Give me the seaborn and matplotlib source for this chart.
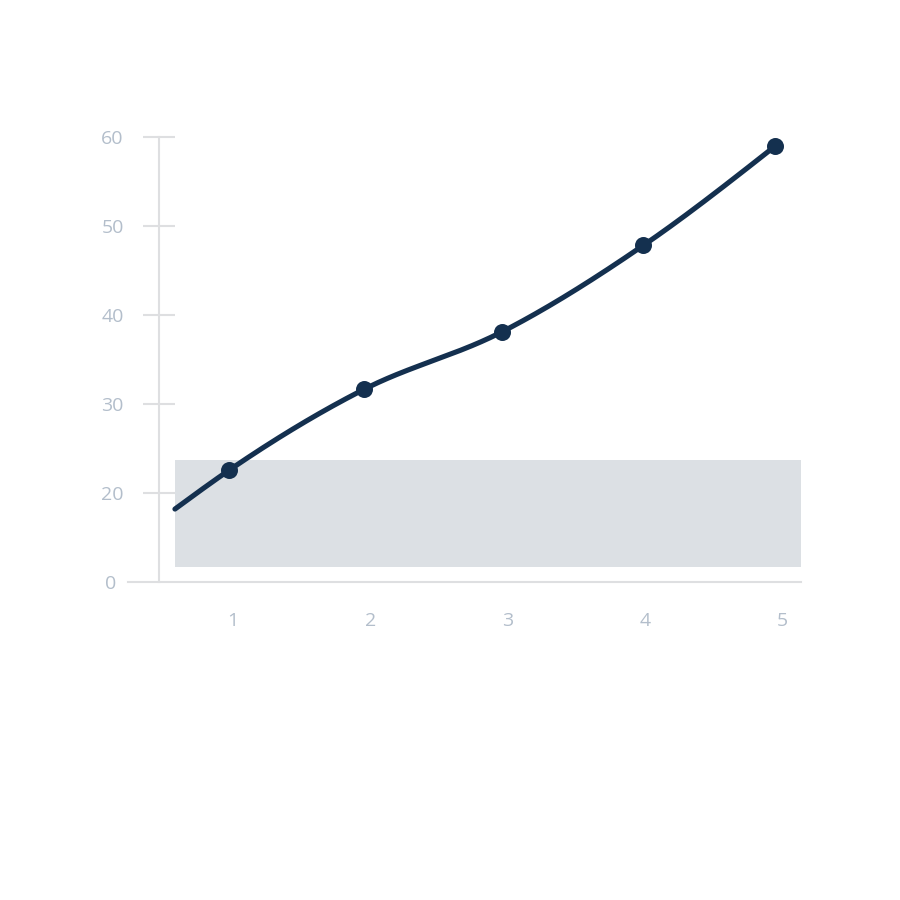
import numpy as np
import pandas as pd
import matplotlib
matplotlib.use("Agg")
import matplotlib.pyplot as plt
import seaborn as sns

# ---- data ----
point_x = [0.975, 1.957, 2.957, 3.987, 4.945]
point_y = [22.55, 31.65, 38.09, 47.83, 58.99]
line_start_x = [0.58]
line_start_y = [18.17]
band_x = [0.58, 5.13]
band_y = [11.65, 23.67]
x_ticks = [1, 2, 3, 4, 5]
x_tick_labels = ["1", "2", "3", "4", "5"]
y_ticks = [20, 30, 40, 50, 60]
y_tick_labels = ["20", "30", "40", "50", "60"]
y_floor = 10
y_floor_label = "0"

NAVY = "#14304f"
AXIS = "#dedfe1"
LABEL = "#b3becb"
BAND = "#dce0e4"


def monotone_curve(xs, ys, n=60):
    xs = np.asarray(xs, float)
    ys = np.asarray(ys, float)
    h = np.diff(xs)
    s = np.diff(ys) / h
    t = np.zeros_like(xs)
    for i in range(1, len(xs) - 1):
        p = (s[i - 1] * h[i] + s[i] * h[i - 1]) / (h[i - 1] + h[i])
        t[i] = (np.sign(s[i - 1]) + np.sign(s[i])) * min(abs(s[i - 1]), abs(s[i]), 0.5 * abs(p))
    t[0] = (3 * s[0] - t[1]) / 2
    t[-1] = (3 * s[-1] - t[-2]) / 2
    cx, cy = [], []
    for i in range(len(xs) - 1):
        u = np.linspace(0, 1, n, endpoint=(i == len(xs) - 2))
        h00 = 2 * u**3 - 3 * u**2 + 1
        h10 = u**3 - 2 * u**2 + u
        h01 = -2 * u**3 + 3 * u**2
        h11 = u**3 - u**2
        cx.append(xs[i] + u * h[i])
        cy.append(h00 * ys[i] + h10 * h[i] * t[i] + h01 * ys[i + 1] + h11 * h[i] * t[i + 1])
    return np.concatenate(cx), np.concatenate(cy)


sns.set_theme(style="white")
plt.rcParams["font.family"] = ["Open Sans", "DejaVu Sans"]

fig = plt.figure(figsize=(9, 9), dpi=100)
ax = fig.add_axes([127.7 / 900, 1 - 581.7 / 900, 673 / 900, 445 / 900])

# band
ax.fill_between(band_x, band_y[0], band_y[1], color=BAND, linewidth=0, zorder=1)

# smooth line
cx, cy = monotone_curve(line_start_x + point_x, line_start_y + point_y)
curve = pd.DataFrame({"x": cx, "y": cy})
sns.lineplot(data=curve, x="x", y="y", ax=ax, color=NAVY, linewidth=3.7,
             sort=False, estimator=None, zorder=3)
pts = pd.DataFrame({"x": point_x, "y": point_y})
sns.scatterplot(data=pts, x="x", y="y", ax=ax, color=NAVY, s=150,
                edgecolor=NAVY, linewidth=0, zorder=4)

ax.set_xlim(0.2364, 5.131)
ax.set_ylim(y_floor, 60.05)
ax.set_xlabel("")
ax.set_ylabel("")

for side in ["top", "right"]:
    ax.spines[side].set_visible(False)
ax.spines["left"].set_position(("data", 0.466))
ax.spines["left"].set_bounds(y_floor, 60)
ax.spines["left"].set_color(AXIS)
ax.spines["left"].set_linewidth(1.5)
ax.spines["bottom"].set_color(AXIS)
ax.spines["bottom"].set_linewidth(1.5)

ax.set_yticks(y_ticks)
ax.set_yticklabels(y_tick_labels)
ax.set_xticks(x_ticks)
ax.set_xticklabels(x_tick_labels)
ax.tick_params(axis="y", left=True, direction="inout", length=23, width=1.5,
               color=AXIS, labelcolor=LABEL, labelsize=14, pad=14)
ax.tick_params(axis="x", bottom=False, length=0, labelcolor=LABEL,
               labelsize=14, pad=22)

ax.annotate(y_floor_label, xy=(0, 0), xycoords="axes fraction",
            xytext=(-8, -2), textcoords="offset points", ha="right",
            va="center", color=LABEL, fontsize=14)

fig.savefig("out.png", dpi=100, facecolor="white")
